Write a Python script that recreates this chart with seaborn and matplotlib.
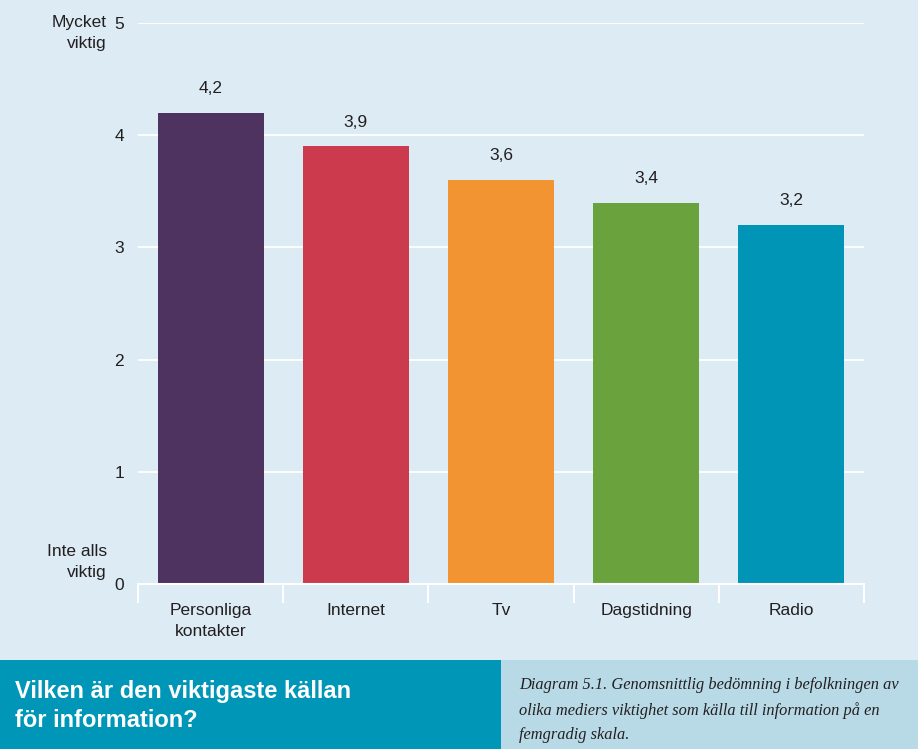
import matplotlib
matplotlib.use("Agg")
import matplotlib.pyplot as plt
import seaborn as sns
import pandas as pd

kallor = ["Personliga\nkontakter", "Internet", "Tv", "Dagstidning", "Radio"]
betyg = [4.2, 3.9, 3.6, 3.4, 3.2]
farger = ["#4e3260", "#cc3a4e", "#f39432", "#6aa33e", "#0095b6"]
yticks = [0, 1, 2, 3, 4, 5]

bg = "#dcebf4"
sns.set_theme(style="white")
plt.rcParams["font.family"] = ["Liberation Sans", "DejaVu Sans"]

df = pd.DataFrame({"kalla": kallor, "betyg": betyg})

fig = plt.figure(figsize=(9.18, 7.49), dpi=100, facecolor=bg)
ax = fig.add_axes([138 / 918, 1 - 584 / 749, (864 - 138) / 918, (584 - 23) / 749])
ax.set_facecolor(bg)

sns.barplot(data=df, x="kalla", y="betyg", hue="kalla", palette=farger,
            width=0.73, saturation=1, legend=False, ax=ax, zorder=3, linewidth=0)

ax.set_xlim(-0.5, 4.5)
ax.set_ylim(0, 5)
ax.set_yticks(yticks)
ax.set_yticklabels([str(t) for t in yticks], fontsize=12.5, color="#231f20")
ax.set_xlabel("")
ax.set_ylabel("")
ax.grid(axis="y", color="white", linewidth=1.3, zorder=0)
ax.grid(axis="x", visible=False)
for s in ["top", "right", "left"]:
    ax.spines[s].set_visible(False)
ax.spines["bottom"].set_color("white")
ax.spines["bottom"].set_linewidth(1.5)
ax.spines["bottom"].set_zorder(4)

ax.tick_params(axis="y", length=0, pad=10)
ax.tick_params(axis="x", which="major", length=0, pad=14, labelsize=12.5, labelcolor="#231f20")
for lbl in ax.get_xticklabels():
    lbl.set_linespacing(1.5)
ax.set_xticks([i - 0.5 for i in range(6)], minor=True)
ax.tick_params(axis="x", which="minor", bottom=True, length=14, width=1.5,
               color="white", direction="out")

for c in ax.containers:
    ax.bar_label(c, labels=[f"{v:.1f}".replace(".", ",") for v in c.datavalues],
                 padding=12, fontsize=12.5, color="#231f20")

fig.text(107 / 918, 1 - 33 / 749, "Mycket\nviktig", ha="right", va="center",
         fontsize=12.5, color="#231f20", linespacing=1.45)
fig.text(107 / 918, 1 - 562 / 749, "Inte alls\nviktig", ha="right", va="center",
         fontsize=12.5, color="#231f20", linespacing=1.45)

# banner underst
fig.patches.append(plt.Rectangle((0, 0), 501 / 918, 89 / 749, transform=fig.transFigure,
                                 facecolor="#0096b8", edgecolor="none", zorder=1))
fig.patches.append(plt.Rectangle((501 / 918, 0), 417 / 918, 89 / 749, transform=fig.transFigure,
                                 facecolor="#b8dae6", edgecolor="none", zorder=1))
fig.text(15 / 918, 1 - 706 / 749, "Vilken är den viktigaste källan\nför information?",
         ha="left", va="center", fontsize=17, fontweight="bold", color="white",
         linespacing=1.3)
fig.text(519 / 918, 1 - 710 / 749,
         "Diagram 5.1. Genomsnittlig bedömning i befolkningen av\n"
         "olika mediers viktighet som källa till information på en\n"
         "femgradig skala.",
         ha="left", va="center", fontsize=11.8, fontstyle="italic",
         family=["Liberation Serif", "DejaVu Serif"], color="#231f20", linespacing=1.7)

fig.savefig("out.png", dpi=100, facecolor=bg)
